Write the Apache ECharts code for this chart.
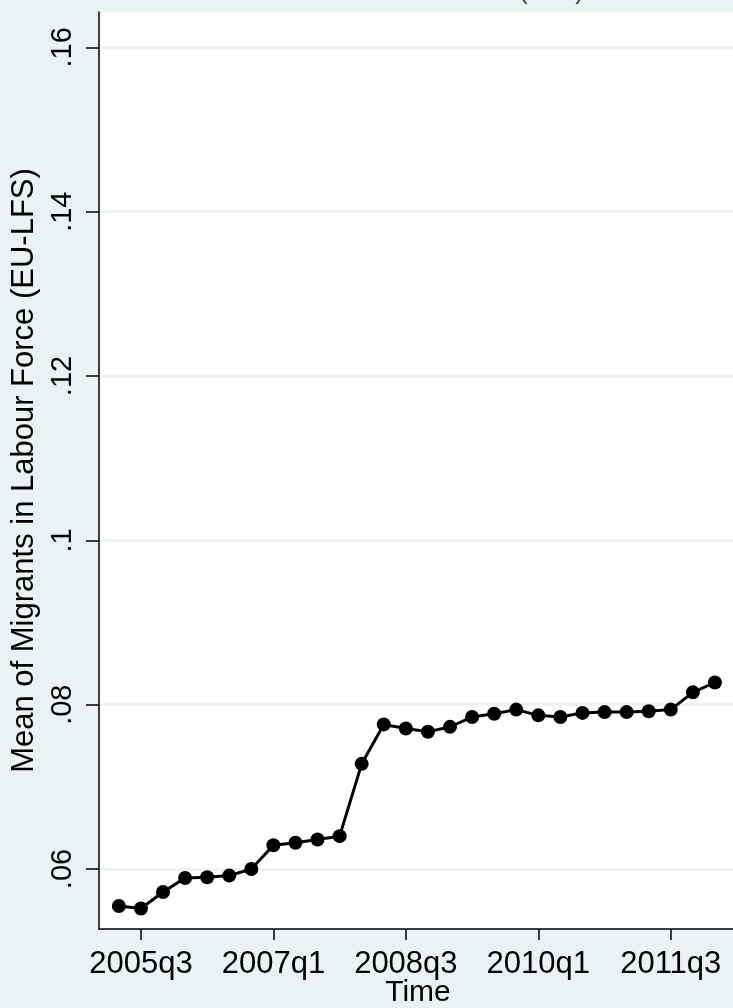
<!DOCTYPE html>
<html>
<head>
<meta charset="utf-8">
<script src="https://cdn.jsdelivr.net/npm/echarts@6/dist/echarts.min.js"></script>
<style>
  html, body { margin: 0; padding: 0; background: #eaf2f3; }
  #chart { width: 733px; height: 1008px; }
</style>
</head>
<body>
<div id="chart"></div>
<script>
// Quarterly periods, 2005q2 .. 2012q1
const quarters = [
  '2005q2','2005q3','2005q4','2006q1','2006q2','2006q3','2006q4',
  '2007q1','2007q2','2007q3','2007q4','2008q1','2008q2','2008q3',
  '2008q4','2009q1','2009q2','2009q3','2009q4','2010q1','2010q2',
  '2010q3','2010q4','2011q1','2011q2','2011q3','2011q4','2012q1'
];

// Mean share of migrants in the labour force
const migrantShare = [
  0.0555, 0.0552, 0.0572, 0.0589, 0.0590, 0.0592, 0.0600,
  0.0629, 0.0632, 0.0636, 0.0640, 0.0728, 0.0776, 0.0771,
  0.0767, 0.0773, 0.0785, 0.0789, 0.0794, 0.0787, 0.0785,
  0.0790, 0.0791, 0.0791, 0.0792, 0.0794, 0.0815, 0.0827
];

// Labelled x ticks and y ticks
const xTickLabels = ['2005q3', '2007q1', '2008q3', '2010q1', '2011q3'];
const yTickValues = [0.06, 0.08, 0.10, 0.12, 0.14, 0.16];

// Quarter index counted from 2005q1
function qIndex(label) {
  const year = parseInt(label.slice(0, 4), 10);
  const q = parseInt(label.slice(5), 10);
  return (year - 2005) * 4 + (q - 1);
}
function qLabel(idx) {
  const i = Math.round(idx);
  return (2005 + Math.floor(i / 4)) + 'q' + ((i % 4) + 1);
}

const points = quarters.map((q, i) => [qIndex(q), migrantShare[i]]);
const xTicks = xTickLabels.map(qIndex);

const FONT = '"Liberation Sans", Arial, sans-serif';
const chart = echarts.init(document.getElementById('chart'), null, { renderer: 'canvas' });

chart.setOption({
  backgroundColor: '#eaf2f3',
  animation: false,
  title: {
    text: '(LFS)',
    left: 514,
    top: -26,
    textStyle: { color: '#1a476f', fontFamily: FONT, fontSize: 26, fontWeight: 'normal' }
  },
  grid: {
    left: 99, top: 12, bottom: 79, right: -4,
    outerBoundsMode: 'none',
    show: true, backgroundColor: '#ffffff', borderWidth: 0,
    containLabel: false
  },
  xAxis: {
    type: 'value',
    min: 0.1,
    max: 29,
    name: 'Time',
    nameLocation: 'middle',
    nameGap: 49,
    nameMoveOverlap: false,
    nameTextStyle: { color: '#000', fontFamily: FONT, fontSize: 30 },
    axisLine: { show: true, onZero: false, lineStyle: { color: '#000', width: 1.5 } },
    axisTick: { show: true, length: 11, customValues: xTicks, lineStyle: { color: '#000', width: 1.5 } },
    axisLabel: {
      customValues: xTicks,
      formatter: v => qLabel(v),
      color: '#000', fontFamily: FONT, fontSize: 31, margin: 20
    },
    splitLine: { show: false }
  },
  yAxis: {
    type: 'value',
    min: 0.0527,
    max: 0.1643,
    name: 'Mean of Migrants in Labour Force (EU-LFS)',
    nameLocation: 'middle',
    nameRotate: 90,
    nameGap: 59,
    nameMoveOverlap: false,
    nameTextStyle: { color: '#000', fontFamily: FONT, fontSize: 31 },
    axisLine: { show: true, lineStyle: { color: '#000', width: 1.5 } },
    axisTick: { show: true, length: 13, customValues: yTickValues, lineStyle: { color: '#000', width: 1.5 } },
    axisLabel: {
      customValues: yTickValues,
      rotate: 90,
      formatter: v => String(+v.toFixed(2)).replace(/^0/, ''),
      color: '#000', fontFamily: FONT, fontSize: 29, margin: 22
    },
    splitLine: { show: true, lineStyle: { color: '#eaf2f3', width: 2.5 } }
  },
  series: [{
    type: 'line',
    data: points,
    symbol: 'circle',
    symbolSize: 14,
    itemStyle: { color: '#000' },
    lineStyle: { color: '#000', width: 3 }
  }]
});
</script>
</body>
</html>
